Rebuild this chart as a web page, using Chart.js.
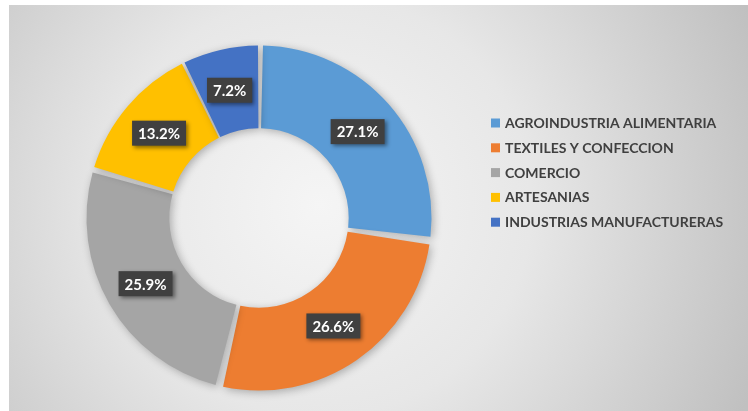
<!DOCTYPE html>
<html>
<head>
<meta charset="utf-8">
<script src="https://cdn.jsdelivr.net/npm/chart.js@4.4.0/dist/chart.umd.min.js"></script>
<style>
  html, body { margin: 0; padding: 0; background: #ffffff; }
  #wrap { width: 748px; height: 411px; position: relative; }
</style>
</head>
<body>
<div id="wrap"><canvas id="c" width="748" height="411"></canvas></div>
<script>
const categories = ['AGROINDUSTRIA ALIMENTARIA', 'TEXTILES Y CONFECCION', 'COMERCIO', 'ARTESANIAS', 'INDUSTRIAS MANUFACTURERAS'];
const shares = [27.1, 26.6, 25.9, 13.2, 7.2];
const sliceColors = ['#5B9BD5', '#ED7D31', '#A5A5A5', '#FFC000', '#4472C4'];

const bgPlugin = {
  id: 'bg',
  beforeDraw(chart) {
    const ctx = chart.ctx;
    const w = chart.width, h = chart.height;
    ctx.save();
    ctx.fillStyle = '#ffffff';
    ctx.fillRect(0, 0, w, h);
    const g = ctx.createRadialGradient(320, 205, 0, 320, 205, 470);
    g.addColorStop(0, '#f5f5f5');
    g.addColorStop(0.45, '#e7e7e7');
    g.addColorStop(1, '#c0c0c0');
    ctx.fillStyle = g;
    ctx.fillRect(9, 5, w - 9, h - 5);
    ctx.restore();
  }
};

const shadowPlugin = {
  id: 'arcShadow',
  beforeDatasetsDraw(chart) {
    const ctx = chart.ctx;
    ctx.save();
    ctx.shadowColor = 'rgba(0,0,0,0.28)';
    ctx.shadowBlur = 9;
    ctx.shadowOffsetX = 2;
    ctx.shadowOffsetY = 2;
  },
  afterDatasetsDraw(chart) {
    chart.ctx.restore();
  }
};

const labelPlugin = {
  id: 'boxLabels',
  afterDatasetsDraw(chart) {
    const ctx = chart.ctx;
    const meta = chart.getDatasetMeta(0);
    const vals = chart.data.datasets[0].data;
    ctx.save();
    ctx.font = 'bold 15px Lato, "Open Sans", sans-serif';
    ctx.textAlign = 'center';
    ctx.textBaseline = 'middle';
    meta.data.forEach((arc, i) => {
      const p = arc.getCenterPoint();
      const txt = vals[i].toFixed(1) + '%';
      const tw = ctx.measureText(txt).width;
      const bw = tw + 12, bh = 25;
      ctx.save();
      ctx.shadowColor = 'rgba(0,0,0,0.45)';
      ctx.shadowBlur = 4;
      ctx.shadowOffsetX = 2;
      ctx.shadowOffsetY = 2;
      ctx.fillStyle = '#404040';
      ctx.fillRect(p.x - bw / 2, p.y - bh / 2, bw, bh);
      ctx.restore();
      ctx.fillStyle = '#ffffff';
      ctx.fillText(txt, p.x, p.y + 1);
    });
    ctx.restore();
  }
};

const legendPlugin = {
  id: 'sideLegend',
  afterDraw(chart) {
    const ctx = chart.ctx;
    const labels = chart.data.labels;
    const cols = chart.data.datasets[0].backgroundColor;
    ctx.save();
    ctx.font = 'bold 14px Lato, "Open Sans", sans-serif';
    ctx.textAlign = 'left';
    ctx.textBaseline = 'middle';
    const x0 = 491, y0 = 123, step = 24.8;
    labels.forEach((lab, i) => {
      const y = y0 + i * step;
      ctx.fillStyle = cols[i];
      ctx.fillRect(x0, y - 4.5, 9, 9);
      ctx.fillStyle = '#404040';
      ctx.fillText(lab, x0 + 14, y + 0.5);
    });
    ctx.restore();
  }
};

new Chart(document.getElementById('c'), {
  type: 'doughnut',
  data: {
    labels: categories,
    datasets: [{
      data: shares,
      backgroundColor: sliceColors,
      borderWidth: 0,
      spacing: 7
    }]
  },
  options: {
    responsive: false,
    animation: false,
    radius: 169,
    cutout: '51%',
    layout: { padding: { left: 80, right: 310, top: 40, bottom: 15 } },
    plugins: {
      legend: { display: false },
      tooltip: { enabled: false }
    }
  },
  plugins: [bgPlugin, shadowPlugin, labelPlugin, legendPlugin]
});
</script>
</body>
</html>
